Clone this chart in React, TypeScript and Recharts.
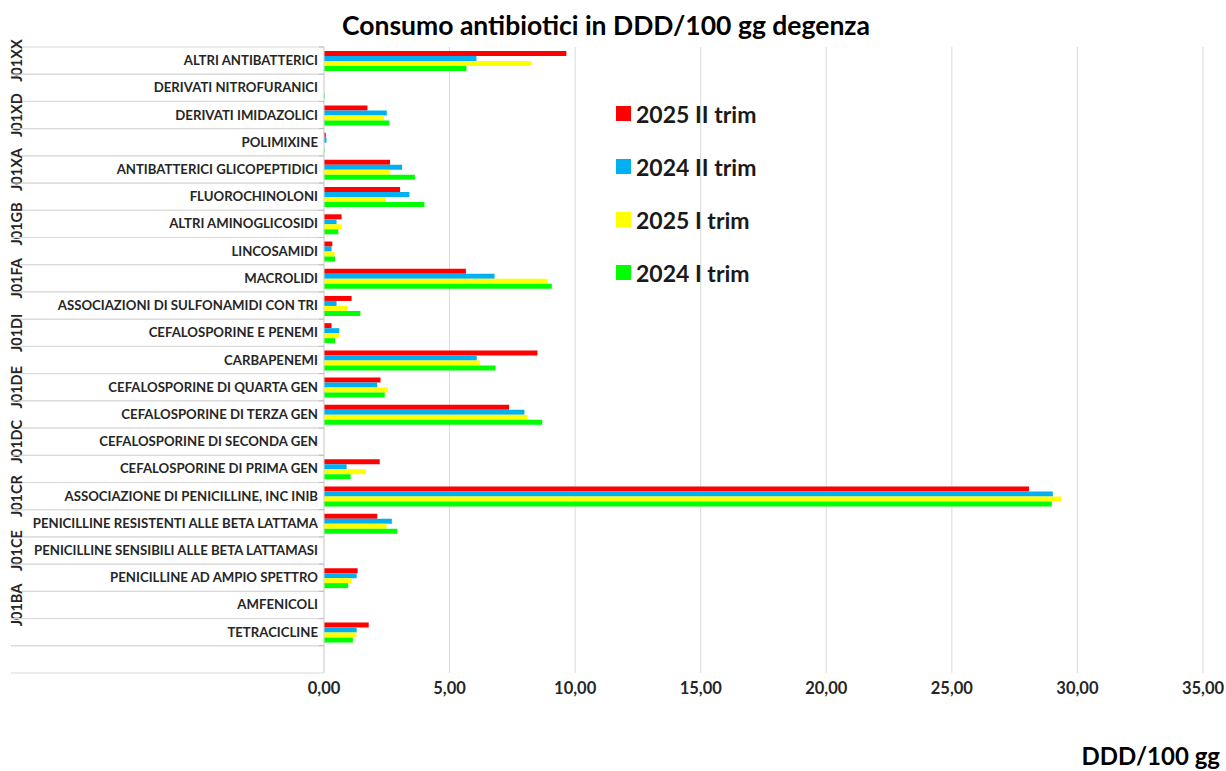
import { BarChart, Bar, XAxis, YAxis, CartesianGrid, Legend } from "recharts";

const categories = [
  "ALTRI ANTIBATTERICI",
  "DERIVATI NITROFURANICI",
  "DERIVATI IMIDAZOLICI",
  "POLIMIXINE",
  "ANTIBATTERICI GLICOPEPTIDICI",
  "FLUOROCHINOLONI",
  "ALTRI AMINOGLICOSIDI",
  "LINCOSAMIDI",
  "MACROLIDI",
  "ASSOCIAZIONI DI SULFONAMIDI CON TRI",
  "CEFALOSPORINE E PENEMI",
  "CARBAPENEMI",
  "CEFALOSPORINE DI QUARTA GEN",
  "CEFALOSPORINE DI TERZA GEN",
  "CEFALOSPORINE DI SECONDA GEN",
  "CEFALOSPORINE DI PRIMA GEN",
  "ASSOCIAZIONE DI PENICILLINE, INC INIB",
  "PENICILLINE RESISTENTI ALLE BETA LATTAMA",
  "PENICILLINE SENSIBILI ALLE BETA LATTAMASI",
  "PENICILLINE AD AMPIO SPETTRO",
  "AMFENICOLI",
  "TETRACICLINE",
  "",
];

// ATC group codes, one per pair of rows
const groups = ["J01XX", "J01XD", "J01XA", "J01GB", "J01FA", "J01DI", "J01DE", "J01DC", "J01CR", "J01CE", "J01BA"];

const trim2_2025 = [9.65, 0, 1.73, 0.07, 2.63, 3.03, 0.7, 0.33, 5.65, 1.1, 0.3, 8.5, 2.25, 7.37, 0, 2.22, 28.07, 2.12, 0, 1.34, 0, 1.78, 0];
const trim2_2024 = [6.07, 0, 2.5, 0.1, 3.11, 3.4, 0.5, 0.3, 6.79, 0.5, 0.61, 6.08, 2.12, 7.98, 0, 0.9, 29.02, 2.7, 0, 1.3, 0, 1.3, 0];
const trim1_2025 = [8.25, 0, 2.39, 0, 2.64, 2.45, 0.71, 0.42, 8.9, 0.94, 0.6, 6.22, 2.55, 8.11, 0, 1.67, 29.35, 2.49, 0, 1.1, 0, 1.29, 0];
const trim1_2024 = [5.67, 0.03, 2.6, 0.02, 3.62, 4.0, 0.57, 0.44, 9.07, 1.45, 0.44, 6.83, 2.42, 8.69, 0, 1.06, 28.98, 2.92, 0, 0.96, 0, 1.15, 0];

const xTicks = [0, 5, 10, 15, 20, 25, 30, 35];

const series = [
  { key: "t2_2025", name: "2025 II trim", color: "#FF0000" },
  { key: "t2_2024", name: "2024 II trim", color: "#00B0F0" },
  { key: "t1_2025", name: "2025 I trim", color: "#FFFF00" },
  { key: "t1_2024", name: "2024 I trim", color: "#00FF00" },
];

const data = categories.map((name, i) => ({
  name,
  t2_2025: trim2_2025[i],
  t2_2024: trim2_2024[i],
  t1_2025: trim1_2025[i],
  t1_2024: trim1_2024[i],
}));

const FONT = "Lato, 'Open Sans', sans-serif";
const ROW = (673 - 47) / categories.length;

const CategoryTick = (props: any) => {
  const { y, payload, index } = props;
  const top = y - ROW / 2;
  const bottom = y + ROW / 2;
  const group = index % 2 === 0 ? groups[index / 2] : undefined;
  return (
    <g>
      <line x1={11} x2={324} y1={top} y2={top} stroke="#d9d9d9" />
      <line x1={11} x2={324} y1={bottom} y2={bottom} stroke="#d9d9d9" />
      <line x1={319} x2={324} y1={top} y2={top} stroke="#bfbfbf" />
      <text
        x={318}
        y={y}
        dy={4.5}
        textAnchor="end"
        fontFamily={FONT}
        fontWeight="bold"
        fontSize={13.2}
        fill="#262626"
      >
        {payload.value}
      </text>
      {group && (
        <text
          x={22}
          y={y}
          textAnchor="middle"
          transform={`rotate(-90 22 ${y})`}
          fontFamily={FONT}
          fontWeight="bold"
          fontSize={14.5}
          fill="#262626"
        >
          {group}
        </text>
      )}
    </g>
  );
};

const LegendBox = () => (
  <div style={{ fontFamily: FONT, fontWeight: "bold", fontSize: 23, color: "#1a1a1a" }}>
    {series.map((s) => (
      <div key={s.key} style={{ display: "flex", alignItems: "center", height: 53 }}>
        <span style={{ width: 15, height: 15, background: s.color, marginRight: 5 }} />
        {s.name}
      </div>
    ))}
  </div>
);

export default function App() {
  return (
    <div style={{ position: "absolute", left: 0, top: 0, width: 1226, height: 771, background: "#fff" }}>
      <div
        style={{
          position: "absolute",
          top: 9,
          left: 0,
          width: 1212,
          textAlign: "center",
          fontFamily: FONT,
          fontWeight: "bold",
          fontSize: 26.5,
          color: "#000",
        }}
      >
        Consumo antibiotici in DDD/100 gg degenza
      </div>
      <BarChart
        width={1226}
        height={771}
        data={data}
        layout="vertical"
        margin={{ top: 47, right: 23, bottom: 68, left: 0 }}
        barCategoryGap={4}
        barGap={0}
      >
        <CartesianGrid horizontal={false} stroke="#d9d9d9" />
        <XAxis
          type="number"
          domain={[0, 35]}
          ticks={xTicks}
          axisLine={false}
          tickLine={false}
          height={30}
          tick={{ fontFamily: FONT, fontWeight: "bold", fontSize: 16.5, fill: "#262626", dy: 1 }}
          tickFormatter={(v: number) => v.toFixed(2).replace(".", ",")}
        />
        <YAxis
          type="category"
          dataKey="name"
          width={324}
          axisLine={{ stroke: "#d9d9d9" }}
          tickLine={false}
          interval={0}
          tick={<CategoryTick />}
        />
        <Legend
          layout="vertical"
          verticalAlign="middle"
          align="center"
          content={<LegendBox />}
          wrapperStyle={{ left: 616, top: 87, width: 220 }}
        />
        {series.map((s) => (
          <Bar key={s.key} dataKey={s.key} name={s.name} fill={s.color} isAnimationActive={false} />
        ))}
      </BarChart>
      <div
        style={{
          position: "absolute",
          right: 6,
          top: 741,
          fontFamily: FONT,
          fontWeight: "bold",
          fontSize: 24,
          color: "#000",
        }}
      >
        DDD/100 gg
      </div>
    </div>
  );
}
